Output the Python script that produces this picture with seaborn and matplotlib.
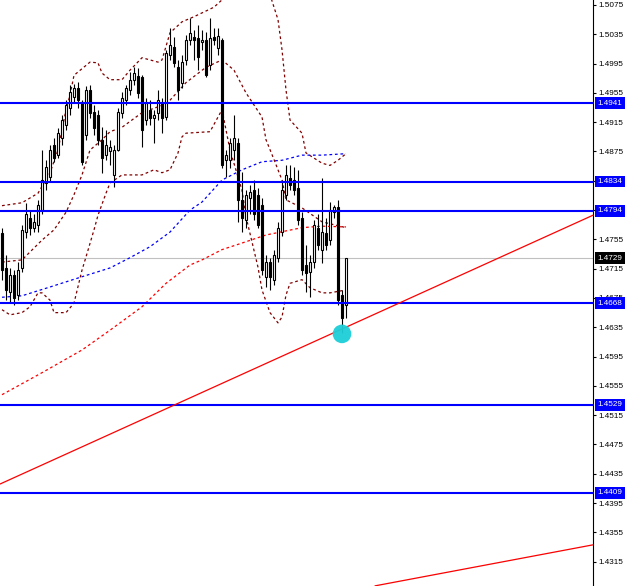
import numpy as np
import matplotlib
matplotlib.use("Agg")
import matplotlib.pyplot as plt
import seaborn as sns

# ---- candle data (bar index = position, 87 bars) ----
opens = [1.4764, 1.4716, 1.4683, 1.4707, 1.4679, 1.4716, 1.4765, 1.4784, 1.4771, 1.4775,
         1.4795, 1.4832, 1.4840, 1.4884, 1.4870, 1.4894, 1.4911, 1.4935, 1.4950, 1.4962,
         1.4943, 1.4898, 1.4959, 1.4929, 1.4925, 1.4891, 1.4870, 1.4875, 1.4843, 1.4877,
         1.4928, 1.4945, 1.4959, 1.4973, 1.4978, 1.4976, 1.4918, 1.4932, 1.4921, 1.4928,
         1.4941, 1.4922, 1.5007, 1.5018, 1.4991, 1.4969, 1.5000, 1.5027, 1.5031, 1.5030,
         1.5025, 1.5027, 1.4993, 1.5031, 1.5016, 1.5027, 1.4864, 1.4864, 1.4877, 1.4887,
         1.4809, 1.4782, 1.4812, 1.4823, 1.4816, 1.4802, 1.4703, 1.4724, 1.4700, 1.4730,
         1.4765, 1.4816, 1.4839, 1.4836, 1.4825, 1.4784, 1.4720, 1.4711, 1.4724, 1.4771,
         1.4741, 1.4764, 1.4754, 1.4793, 1.4799, 1.4679, 1.4666]
highs = [1.4771, 1.4734, 1.4716, 1.4713, 1.4724, 1.4775, 1.4805, 1.4795, 1.4789, 1.4809,
         1.4877, 1.4864, 1.4884, 1.4894, 1.4907, 1.4925, 1.4945, 1.4966, 1.4967, 1.4970,
         1.4945, 1.4965, 1.4966, 1.4939, 1.4932, 1.4909, 1.4905, 1.4891, 1.4884, 1.4935,
         1.4956, 1.4966, 1.4984, 1.4991, 1.4989, 1.4980, 1.4948, 1.4945, 1.4932, 1.4959,
         1.4948, 1.5014, 1.5044, 1.5031, 1.5000, 1.5007, 1.5034, 1.5057, 1.5041, 1.5048,
         1.5041, 1.5038, 1.5057, 1.5044, 1.5044, 1.5030, 1.4877, 1.4894, 1.4925, 1.4894,
         1.4847, 1.4823, 1.4829, 1.4836, 1.4825, 1.4812, 1.4734, 1.4730, 1.4741, 1.4779,
         1.4836, 1.4857, 1.4857, 1.4854, 1.4850, 1.4793, 1.4748, 1.4734, 1.4782, 1.4789,
         1.4839, 1.4784, 1.4806, 1.4802, 1.4809, 1.4686, 1.4730]
lows = [1.4700, 1.4672, 1.4670, 1.4666, 1.4672, 1.4711, 1.4757, 1.4761, 1.4765, 1.4765,
        1.4789, 1.4823, 1.4834, 1.4861, 1.4866, 1.4884, 1.4905, 1.4925, 1.4943, 1.4935,
        1.4857, 1.4891, 1.4921, 1.4898, 1.4884, 1.4846, 1.4864, 1.4857, 1.4827, 1.4875,
        1.4921, 1.4939, 1.4952, 1.4966, 1.4948, 1.4881, 1.4911, 1.4911, 1.4887, 1.4918,
        1.4900, 1.4918, 1.5000, 1.4991, 1.4945, 1.4962, 1.4993, 1.5021, 1.5000, 1.4986,
        1.5014, 1.4977, 1.4986, 1.5021, 1.5007, 1.4853, 1.4840, 1.4853, 1.4864, 1.4779,
        1.4765, 1.4771, 1.4789, 1.4782, 1.4771, 1.4707, 1.4690, 1.4686, 1.4693, 1.4724,
        1.4760, 1.4809, 1.4823, 1.4816, 1.4775, 1.4707, 1.4683, 1.4677, 1.4716, 1.4741,
        1.4723, 1.4741, 1.4748, 1.4784, 1.4666, 1.4627, 1.4648]
closes = [1.4713, 1.4686, 1.4707, 1.4675, 1.4713, 1.4768, 1.4789, 1.4771, 1.4779, 1.4802,
          1.4836, 1.4854, 1.4877, 1.4866, 1.4900, 1.4918, 1.4939, 1.4956, 1.4962, 1.4945,
          1.4861, 1.4959, 1.4928, 1.4907, 1.4891, 1.4866, 1.4884, 1.4881, 1.4877, 1.4929,
          1.4948, 1.4962, 1.4973, 1.4982, 1.4955, 1.4905, 1.4941, 1.4921, 1.4925, 1.4945,
          1.4921, 1.5010, 1.5021, 1.4996, 1.4959, 1.4997, 1.5027, 1.5037, 1.5027, 1.5004,
          1.5027, 1.4980, 1.5030, 1.5027, 1.5033, 1.4857, 1.4870, 1.4887, 1.4894, 1.4809,
          1.4784, 1.4816, 1.4820, 1.4789, 1.4775, 1.4713, 1.4724, 1.4703, 1.4734, 1.4771,
          1.4823, 1.4843, 1.4829, 1.4823, 1.4782, 1.4713, 1.4709, 1.4724, 1.4775, 1.4748,
          1.4765, 1.4748, 1.4795, 1.4799, 1.4672, 1.4648, 1.4729]

# ---- indicators (bar index, price) ----
ma_blue_idx = [0, 5, 12, 20, 27, 32, 37, 42, 47, 50, 55, 60, 65, 70, 75, 80, 86]
ma_blue_val = [1.4676, 1.4678, 1.4690, 1.4704, 1.4716, 1.4730, 1.4745, 1.4765, 1.4795,
               1.4806, 1.4836, 1.4850, 1.4861, 1.4863, 1.4870, 1.4870, 1.4872]
ma_red_idx = [0, 10, 20, 27, 35, 41, 47, 50, 55, 60, 66, 75, 80, 86]
ma_red_val = [1.4543, 1.4573, 1.4604, 1.4631, 1.4663, 1.4695, 1.4720, 1.4727, 1.4741,
              1.4750, 1.4761, 1.4771, 1.4773, 1.4772]
bb_upper_idx = [0, 5, 9, 12, 14, 16, 17, 18, 22, 24, 25, 27, 30, 32, 35, 39, 40, 42, 45,
                48, 53, 55, 58, 62, 65, 67, 69, 70, 71, 72, 75, 76, 80, 82, 84, 86]
bb_upper_val = [1.4801, 1.4805, 1.4818, 1.4846, 1.4877, 1.4932, 1.4952, 1.4979, 1.4997,
                1.4996, 1.4982, 1.4973, 1.4973, 1.4986, 1.5003, 1.4997, 1.5000, 1.5037,
                1.5052, 1.5059, 1.5072, 1.5082, 1.5116, 1.5137, 1.5123, 1.5089, 1.5055,
                1.5014, 1.4959, 1.4918, 1.4900, 1.4873, 1.4859, 1.4856, 1.4863, 1.4872]
bb_mid_idx = [0, 5, 10, 13, 16, 18, 20, 22, 25, 27, 30, 35, 40, 42, 46, 51, 55, 58, 61,
              65, 66, 68, 70, 71, 75, 80, 86]
bb_mid_val = [1.4724, 1.4727, 1.4754, 1.4768, 1.4792, 1.4816, 1.4843, 1.4877, 1.4891,
              1.4902, 1.4908, 1.4928, 1.4938, 1.4945, 1.4969, 1.4990, 1.5000, 1.4986,
              1.4955, 1.4922, 1.4891, 1.4864, 1.4836, 1.4809, 1.4798, 1.4779, 1.4771]
bb_lower_idx = [0, 2, 5, 7, 9, 10, 12, 13, 16, 18, 20, 21, 23, 24, 26, 27, 30, 35, 38,
                40, 42, 44, 45, 46, 52, 54, 55, 57, 60, 61, 64, 65, 67, 69, 70, 71, 72,
                75, 77, 80, 82, 86]
bb_lower_val = [1.4659, 1.4652, 1.4655, 1.4663, 1.4682, 1.4682, 1.4672, 1.4655, 1.4655,
                1.4668, 1.4713, 1.4731, 1.4768, 1.4788, 1.4818, 1.4832, 1.4843, 1.4843,
                1.4850, 1.4846, 1.4850, 1.4873, 1.4895, 1.4900, 1.4902, 1.4922, 1.4932,
                1.4877, 1.4822, 1.4786, 1.4717, 1.4686, 1.4655, 1.4641, 1.4649, 1.4679,
                1.4695, 1.4700, 1.4689, 1.4682, 1.4682, 1.4686]

# ---- objects ----
levels = [1.4941, 1.4834, 1.4794, 1.4668, 1.4529, 1.4409]
current_price = 1.4729
trend1_idx = [-0.5, 147.75]
trend1_val = [1.4421, 1.4788]
trend2_idx = [93.25, 147.75]
trend2_val = [1.4282, 1.4338]
mark_idx = [85]
mark_val = [1.4626]
price_ticks = [1.5075, 1.5035, 1.4995, 1.4955, 1.4915, 1.4875, 1.4835, 1.4795, 1.4755,
               1.4715, 1.4675, 1.4635, 1.4595, 1.4555, 1.4515, 1.4475, 1.4435, 1.4395,
               1.4355, 1.4315]

sns.set_theme(style="white")
plt.rcParams["font.family"] = ["Liberation Sans", "DejaVu Sans"]

fig = plt.figure(figsize=(6.25, 5.86), dpi=100)
ax = fig.add_axes([0, 0, 593 / 625, 1])
ax.set_facecolor("white")

dot = (0, (2.2, 2.2))
sns.lineplot(x=bb_upper_idx, y=bb_upper_val, ax=ax, color="#800000", lw=0.9, ls=dot, sort=False, estimator=None, zorder=2)
sns.lineplot(x=bb_mid_idx, y=bb_mid_val, ax=ax, color="#800000", lw=0.9, ls=dot, sort=False, estimator=None, zorder=2)
sns.lineplot(x=bb_lower_idx, y=bb_lower_val, ax=ax, color="#800000", lw=0.9, ls=dot, sort=False, estimator=None, zorder=2)
sns.lineplot(x=ma_red_idx, y=ma_red_val, ax=ax, color="#ff0000", lw=0.9, ls=dot, sort=False, estimator=None, zorder=2)
sns.lineplot(x=ma_blue_idx, y=ma_blue_val, ax=ax, color="#0000ff", lw=0.9, ls=dot, sort=False, estimator=None, zorder=2)

# candles
idx = np.arange(len(opens))
o = np.array(opens); h = np.array(highs); l = np.array(lows); c = np.array(closes)
ax.vlines(idx, l, h, color="black", lw=0.8, zorder=3)
bull = c >= o
ax.bar(idx[bull], c[bull] - o[bull], bottom=o[bull], width=0.55, facecolor="white",
       edgecolor="black", linewidth=0.8, zorder=4)
ax.bar(idx[~bull], c[~bull] - o[~bull], bottom=o[~bull], width=0.55, facecolor="black",
       edgecolor="black", linewidth=0.8, zorder=4)

# current price & levels
ax.axhline(current_price, color="#c0c0c0", lw=0.8, zorder=1)
for lv in levels:
    ax.axhline(lv, color="#0000ff", lw=1.5, zorder=5)
sns.lineplot(x=trend1_idx, y=trend1_val, ax=ax, color="#ff0000", lw=0.9, sort=False, estimator=None, zorder=5)
sns.lineplot(x=trend2_idx, y=trend2_val, ax=ax, color="#ff0000", lw=0.9, sort=False, estimator=None, zorder=5)
ax.scatter(mark_idx, mark_val, s=180, color="#1ccfd8", edgecolors="none", zorder=6, alpha=0.95)

ax.set_xlim(-0.5, 147.75)
ax.set_ylim(1.42818, 1.50818)
ax.set_xticks([])
ax.yaxis.tick_right()
ax.set_yticks(price_ticks)
ax.set_yticklabels([f"{t:.4f}" for t in price_ticks])
ax.tick_params(axis="y", right=True, left=False, length=2.5, width=0.8, pad=1.2,
               labelsize=5.9, colors="black", direction="out")
for s in ["left", "top", "bottom"]:
    ax.spines[s].set_visible(False)
ax.spines["right"].set_color("black")
ax.spines["right"].set_linewidth(0.8)

tr = ax.get_yaxis_transform()
for lv in levels:
    ax.text(1.0 + 4.5 / 593, lv, f"{lv:.4f}", transform=tr, ha="left", va="center",
            fontsize=5.9, color="white", clip_on=False, zorder=10,
            bbox=dict(boxstyle="square,pad=0.3", fc="#0000ff", ec="none"))
ax.text(1.0 + 4.5 / 593, current_price, f"{current_price:.4f}", transform=tr, ha="left",
        va="center", fontsize=5.9, color="white", clip_on=False, zorder=10,
        bbox=dict(boxstyle="square,pad=0.3", fc="black", ec="none"))

fig.savefig("out.png", dpi=100)
